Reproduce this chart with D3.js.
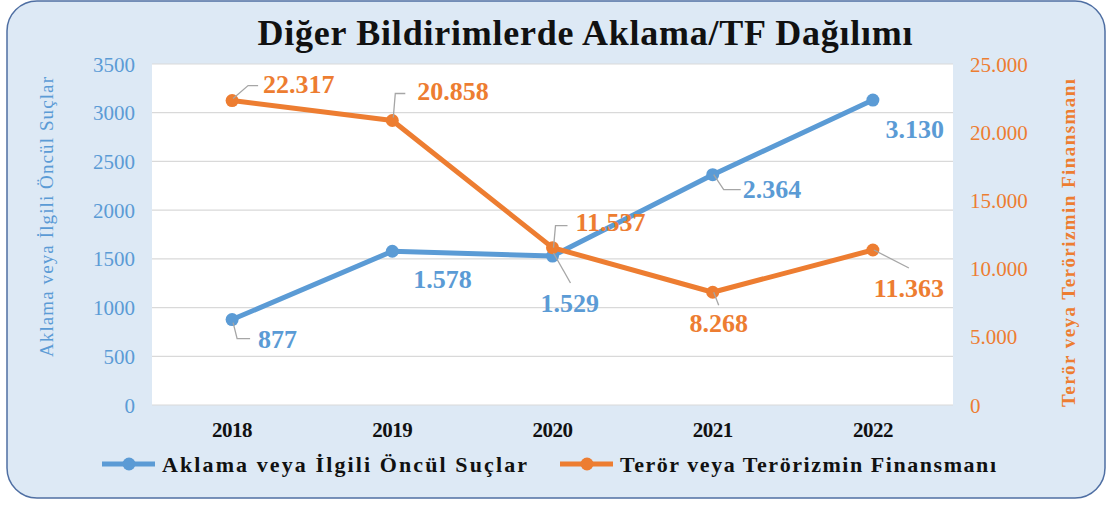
<!DOCTYPE html>
<html lang="tr">
<head>
<meta charset="UTF-8">
<title>Diğer Bildirimlerde Aklama/TF Dağılımı</title>
<script src="https://cdn.jsdelivr.net/npm/d3@7"></script>
<style>
    body {margin: 0; background: #fff;}
    svg {display: block;}
</style>
</head>
<body>
<svg id="chart" width="1110" height="505"></svg>
<script>
// data
let years = ["2018", "2019", "2020", "2021", "2022"]
let aklama = [877, 1578, 1529, 2364, 3130]
let teror = [22317, 20858, 11537, 8268, 11363]
let leftTicks = [0, 500, 1000, 1500, 2000, 2500, 3000, 3500]
let rightTicks = [0, 5000, 10000, 15000, 20000, 25000]

let serif = "'Liberation Serif', 'Times New Roman', serif"
let blue = "#5b9bd5", orange = "#ed7d31"
let svg = d3.select("#chart")

// background panel
svg.append("rect")
    .attr("x", 7).attr("y", 1).attr("width", 1098).attr("height", 497)
    .attr("rx", 30)
    .attr("fill", "#dde9f5").attr("stroke", "#4f6fa3").attr("stroke-width", 1.5)

let plot = {left: 152, right: 953, top: 64, bottom: 405}

svg.append("rect")
    .attr("x", plot.left).attr("y", plot.top)
    .attr("width", plot.right - plot.left).attr("height", plot.bottom - plot.top)
    .attr("fill", "#fff")

let x = d3.scaleBand().domain(years).range([plot.left, plot.right])
let yL = d3.scaleLinear().domain([0, 3500]).range([plot.bottom, plot.top])
let yR = d3.scaleLinear().domain([0, 25000]).range([plot.bottom, plot.top])
let cx = d => x(d) + x.bandwidth() / 2
let fmt = d3.formatLocale({decimal: ",", thousands: ".", grouping: [3], currency: ["", ""]}).format(",")

// gridlines
svg.append("g").selectAll("line").data(leftTicks).join("line")
    .attr("x1", plot.left).attr("x2", plot.right)
    .attr("y1", d => yL(d)).attr("y2", d => yL(d))
    .attr("stroke", "#d9d9d9").attr("stroke-width", 1.2)

// left axis
let axL = svg.append("g").attr("transform", `translate(${plot.left},0)`)
    .call(d3.axisLeft(yL).tickValues(leftTicks).tickSize(0).tickPadding(17).tickFormat(d3.format("d")))
axL.attr("font-family", serif)
axL.select(".domain").remove()
axL.selectAll("text").attr("fill", blue).attr("font-size", 21).attr("dy", "0.34em")

// right axis
let axR = svg.append("g").attr("transform", `translate(${plot.right},0)`)
    .call(d3.axisRight(yR).tickValues(rightTicks).tickSize(0).tickPadding(17).tickFormat(fmt))
axR.attr("font-family", serif)
axR.select(".domain").remove()
axR.selectAll("text").attr("fill", orange).attr("font-size", 21).attr("dy", "0.34em")

// x axis
let axX = svg.append("g").attr("transform", `translate(0,${plot.bottom})`)
    .call(d3.axisBottom(x).tickSize(0).tickPadding(17))
axX.attr("font-family", serif)
axX.select(".domain").remove()
axX.selectAll("text").attr("fill", "#111").attr("font-size", 21).attr("font-weight", "bold")
    .attr("letter-spacing", -0.5)

// title
svg.append("text").attr("x", 585).attr("y", 45).attr("text-anchor", "middle")
    .attr("font-family", serif)
    .attr("font-size", 36).attr("font-weight", "bold").attr("fill", "#111")
    .attr("textLength", 655).attr("lengthAdjust", "spacing")
    .text("Diğer Bildirimlerde Aklama/TF Dağılımı")

// axis titles
svg.append("text").attr("transform", "translate(53,217) rotate(-90)")
    .attr("font-family", serif)
    .attr("text-anchor", "middle").attr("font-size", 19).attr("fill", blue)
    .attr("textLength", 280).attr("lengthAdjust", "spacing")
    .text("Aklama veya İlgili Öncül Suçlar")
svg.append("text").attr("transform", "translate(1075,243) rotate(-90)")
    .attr("font-family", serif)
    .attr("text-anchor", "middle").attr("font-size", 19).attr("font-weight", "bold").attr("fill", orange)
    .attr("textLength", 328).attr("lengthAdjust", "spacing")
    .text("Terör veya Terörizmin Finansmanı")

// lines
let lineL = d3.line().x((d, i) => cx(years[i])).y(d => yL(d))
let lineR = d3.line().x((d, i) => cx(years[i])).y(d => yR(d))

// label offsets from point: dx, baseline dy, anchor
let aklamaLab = [[26, 28, "start"], [21, 37, "start"], [-12, 56, "start"], [30, 23, "start"], [71, 38, "end"]]
let terorLab = [[31, -8, "start"], [25, -20, "start"], [23, -17, "start"], [6, 40, "middle"], [71, 47, "end"]]

let aklamaLead = [[[1, 3], [5, 19], [18, 19]], null, [[1, -3], [18, 27]], [[1, 0], [11, 15], [28, 15]], null]
let terorLead = [[[1, -2], [16, -15], [26, -15]], [[1, -3], [3, -27], [13, -27]], [[1, 0], [3, -22], [15, -22]], [[1, 0], [6, 13]], [[1, 0], [36, 18]]]

function leaders(vals, scale, lead) {
    let g = svg.append("g")
    lead.forEach((l, i) => {
        if (!l) return
        let px = cx(years[i]), py = scale(vals[i])
        g.append("path")
            .attr("d", d3.line()(l.map(p => [px + p[0], py + p[1]])))
            .attr("fill", "none").attr("stroke", "#a6a6a6").attr("stroke-width", 1.3)
    })
}

function series(vals, scale, line, color) {
    svg.append("path").datum(vals).attr("d", line)
        .attr("fill", "none").attr("stroke", color).attr("stroke-width", 5)
        .attr("stroke-linejoin", "round")
    svg.append("g").selectAll("circle").data(vals).join("circle")
        .attr("cx", (d, i) => cx(years[i])).attr("cy", d => scale(d)).attr("r", 6.5)
        .attr("fill", color)
}

function labels(vals, scale, color, labs) {
    svg.append("g").selectAll("text").data(vals).join("text")
        .attr("x", (d, i) => cx(years[i]) + labs[i][0])
        .attr("y", (d, i) => scale(d) + labs[i][1])
        .attr("text-anchor", (d, i) => labs[i][2])
        .attr("font-family", serif)
        .attr("font-size", 26).attr("font-weight", "bold").attr("fill", color)
        .text(d => fmt(d))
}

series(aklama, yL, lineL, blue)
series(teror, yR, lineR, orange)
leaders(aklama, yL, aklamaLead)
leaders(teror, yR, terorLead)
labels(aklama, yL, blue, aklamaLab)
labels(teror, yR, orange, terorLab)

// legend
let legend = [["Aklama veya İlgili Öncül Suçlar", blue, 102, 365], ["Terör veya Terörizmin Finansmanı", orange, 560, 376]]
let lg = svg.append("g")
legend.forEach(([name, color, lx, tw]) => {
    lg.append("line").attr("x1", lx).attr("x2", lx + 53).attr("y1", 464).attr("y2", 464)
        .attr("stroke", color).attr("stroke-width", 5)
    lg.append("circle").attr("cx", lx + 27).attr("cy", 464).attr("r", 6.5).attr("fill", color)
    lg.append("text").attr("x", lx + 60).attr("y", 472)
        .attr("font-family", serif)
        .attr("font-size", 22).attr("font-weight", "bold").attr("fill", "#111")
        .attr("textLength", tw).attr("lengthAdjust", "spacing")
        .text(name)
})
</script>
</body>
</html>
